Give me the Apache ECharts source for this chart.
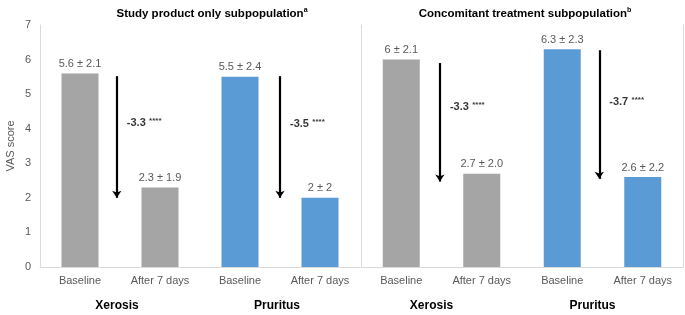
<!DOCTYPE html>
<html>
<head>
<meta charset="utf-8">
<script src="https://cdn.jsdelivr.net/npm/echarts@6/dist/echarts.min.js"></script>
<style>
  html, body { margin: 0; padding: 0; background: #fff; }
  #chart { width: 685px; height: 315px; }
</style>
</head>
<body>
<div id="chart"></div>
<script>
// categories
const categories = ['Baseline', 'After 7 days', 'Baseline', 'After 7 days'];
const groups = ['Xerosis', 'Pruritus'];
const panelTitles = ['Study product only subpopulation', 'Concomitant treatment subpopulation'];
const panelNotes = ['a', 'b'];
const yTicks = [0, 1, 2, 3, 4, 5, 6, 7];

// mean VAS scores
const studyMeans = [5.6, 2.3, 5.5, 2.0];
const studyLabels = ['5.6 ± 2.1', '2.3 ± 1.9', '5.5 ± 2.4', '2 ± 2'];
const concMeans = [6.0, 2.7, 6.3, 2.6];
const concLabels = ['6 ± 2.1', '2.7 ± 2.0', '6.3 ± 2.3', '2.6 ± 2.2'];

// change arrows: [x position in bands, from, to, label y]
const studyArrows = [[0.96, 5.52, 2.0, 4.18], [3.0, 5.52, 2.0, 4.15]];
const studyDiffs = ['-3.3', '-3.5'];
const concArrows = [[0.98, 5.9, 2.47, 4.62], [2.96, 6.27, 2.55, 4.78]];
const concDiffs = ['-3.3', '-3.7'];

const grey = '#A5A5A5';
const blue = '#5B9BD5';
const textGrey = '#595959';
const lineGrey = '#D9D9D9';

function barSeries(vals, labels, axis) {
  return {
    type: 'bar',
    xAxisIndex: axis * 3,
    yAxisIndex: axis * 2,
    barWidth: 37,
    data: vals.map((v, i) => ({
      value: v,
      itemStyle: { color: i < 2 ? grey : blue }
    })),
    label: {
      show: true,
      position: 'top',
      distance: 4,
      color: textGrey,
      fontSize: 11,
      formatter: p => labels[p.dataIndex]
    }
  };
}

function arrowSeries(arrows, axis) {
  return {
    type: 'lines',
    coordinateSystem: 'cartesian2d',
    xAxisIndex: axis * 3 + 2,
    yAxisIndex: axis * 2,
    symbol: ['none', 'arrow'],
    symbolSize: [6, 7],
    lineStyle: { color: '#000', width: 2.2, opacity: 1 },
    silent: true,
    data: arrows.map(a => ({ coords: [[a[0], a[1]], [a[0], a[2]]] }))
  };
}

function diffSeries(arrows, diffs, axis) {
  return {
    type: 'scatter',
    xAxisIndex: axis * 3 + 2,
    yAxisIndex: axis * 2,
    symbolSize: 0,
    silent: true,
    data: arrows.map((a, i) => [a[0], a[3], diffs[i]]),
    label: {
      show: true,
      position: 'right',
      distance: 10,
      formatter: p => '{d|' + p.value[2] + '} {s|****}',
      rich: {
        d: { fontSize: 11, fontWeight: 'bold', color: '#000' },
        s: { fontSize: 8, fontWeight: 'bold', color: '#000', padding: [0, 0, 4, 0] }
      }
    }
  };
}

function panelAxes(grid, groupShift) {
  return [
    {
      type: 'category', gridIndex: grid, data: categories,
      axisLine: { lineStyle: { color: lineGrey } },
      axisTick: { show: false },
      axisLabel: { color: textGrey, fontSize: 11, margin: 8 }
    },
    {
      type: 'category', gridIndex: grid, data: groups, position: 'bottom',
      axisLine: { show: false }, axisTick: { show: false },
      axisLabel: {
        color: '#000', fontSize: 12, fontWeight: 'bold', margin: 33,
        padding: [0, groupShift, 0, 0]
      }
    },
    { type: 'value', gridIndex: grid, min: 0, max: 4, show: false }
  ];
}

const chart = echarts.init(document.getElementById('chart'));
chart.setOption({
  animation: false,
  textStyle: { fontFamily: 'Liberation Sans, Arial, sans-serif' },
  title: panelTitles.map((t, i) => ({
    text: '{t|' + t + '}{s|' + panelNotes[i] + '}',
    left: i === 0 ? 207 : 520,
    top: 2,
    textAlign: 'center',
    textStyle: {
      rich: {
        t: { fontSize: 11.5, fontWeight: 'bold', color: '#000' },
        s: { fontSize: 7, fontWeight: 'bold', color: '#000', padding: [0, 0, 6, 0] }
      }
    }
  })),
  grid: [
    { left: 40, right: 325, top: 25, bottom: 48 },
    { left: 361, right: 2, top: 25, bottom: 48 }
  ],
  xAxis: [...panelAxes(0, 6), ...panelAxes(1, 20)],
  yAxis: [
    {
      type: 'value', gridIndex: 0, min: yTicks[0], max: yTicks[yTicks.length - 1], interval: 1,
      name: 'VAS score', nameLocation: 'middle', nameGap: 24,
      nameTextStyle: { color: textGrey, fontSize: 11 },
      axisLine: { show: true, lineStyle: { color: lineGrey } },
      axisTick: { show: false },
      splitLine: { show: false },
      axisLabel: { color: textGrey, fontSize: 11, margin: 9 }
    },
    {
      type: 'value', gridIndex: 1, min: 0, max: 7, interval: 1,
      axisLine: { show: true, lineStyle: { color: lineGrey } },
      axisTick: { show: false }, splitLine: { show: false },
      axisLabel: { show: false }
    },
    {
      type: 'value', gridIndex: 1, min: 0, max: 7, interval: 1, position: 'right',
      axisLine: { show: true, lineStyle: { color: lineGrey } },
      axisTick: { show: false }, splitLine: { show: false },
      axisLabel: { show: false }
    }
  ],
  series: [
    barSeries(studyMeans, studyLabels, 0),
    barSeries(concMeans, concLabels, 1),
    arrowSeries(studyArrows, 0),
    arrowSeries(concArrows, 1),
    diffSeries(studyArrows, studyDiffs, 0),
    diffSeries(concArrows, concDiffs, 1)
  ]
});
</script>
</body>
</html>
